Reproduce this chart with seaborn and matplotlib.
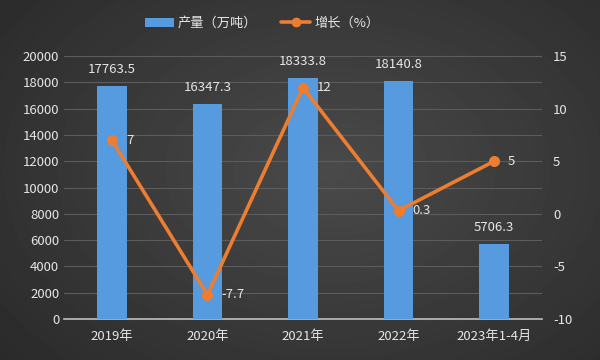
import numpy as np
import pandas as pd
import matplotlib
matplotlib.use("Agg")
import matplotlib.pyplot as plt
from matplotlib.patches import Patch
from matplotlib.lines import Line2D
import seaborn as sns

categories = ["2019年", "2020年", "2021年", "2022年", "2023年1-4月"]
output = [17763.5, 16347.3, 18333.8, 18140.8, 5706.3]
growth = [7, -7.7, 12, 0.3, 5]
output_labels = ["17763.5", "16347.3", "18333.8", "18140.8", "5706.3"]
growth_labels = ["7", "-7.7", "12", "0.3", "5"]

sns.set_theme(style="dark")
plt.rcParams['font.family'] = ['Noto Sans CJK SC', 'DejaVu Sans']
plt.rcParams['axes.unicode_minus'] = False

txt = "#e6e6e6"
blue = "#569ae0"
orange = "#ed7d31"

fig = plt.figure(figsize=(6, 3.6), dpi=100)
# background gradient
bg = fig.add_axes([0, 0, 1, 1], zorder=-10)
yy, xx = np.mgrid[0:360, 0:600]
r = np.sqrt(((xx - 330) / 380.0) ** 2 + ((yy - 170) / 260.0) ** 2)
img = np.clip(0.29 - 0.11 * r, 0.16, 0.29)
bg.imshow(img, cmap="gray", vmin=0, vmax=1, aspect="auto", extent=[0, 1, 0, 1])
bg.axis("off")

ax = fig.add_axes([0.107, 0.114, 0.796, 0.730])
ax.set_facecolor("none")
df = pd.DataFrame({"cat": categories, "output": output, "growth": growth})
sns.barplot(data=df, x="cat", y="output", ax=ax, color=blue, width=0.31,
            saturation=1, linewidth=0, edgecolor="none", zorder=3)
ax.set_ylim(0, 20000)
ax.set_xlim(-0.5, 4.5)
ax.set_yticks(np.arange(0, 20001, 2000))
ax.grid(axis="y", color="#5c5c5c", linewidth=0.8, zorder=0)
ax.grid(axis="x", visible=False)
ax.set_xlabel("")
ax.set_ylabel("")
for s in ["top", "right", "left"]:
    ax.spines[s].set_visible(False)
ax.spines["bottom"].set_color("#bfbfbf")
ax.spines["bottom"].set_linewidth(1.2)
ax.tick_params(axis="both", colors=txt, labelsize=9.5, length=0)
ax.tick_params(axis="x", pad=8)
for i, v in enumerate(output):
    ax.annotate(output_labels[i], (i, v), xytext=(0, 7), textcoords="offset points",
                ha="center", va="bottom", color=txt, fontsize=9.5, zorder=6)

ax2 = ax.twinx()
ax2.set_facecolor("none")
sns.pointplot(data=df, x="cat", y="growth", ax=ax2, color=orange,
              markers="o", markersize=6, linewidth=2.6, zorder=5)
ax2.set_ylim(-10, 15)
ax2.set_xlim(-0.5, 4.5)
ax2.set_yticks(np.arange(-10, 16, 5))
ax2.grid(False)
ax2.set_ylabel("")
ax2.set_xlabel("")
for s in ["top", "right", "left", "bottom"]:
    ax2.spines[s].set_visible(False)
ax2.tick_params(axis="y", colors=txt, labelsize=9.5, length=0, pad=8)
for i, v in enumerate(growth):
    ax2.annotate(growth_labels[i], (i, v), xytext=(10, 0), textcoords="offset points",
                 ha="left", va="center", color=txt, fontsize=9.5, zorder=6)

handles = [Patch(facecolor=blue, edgecolor="none"),
           Line2D([0], [0], color=orange, linewidth=2.6, marker="o", markersize=6)]
fig.legend(handles, ["产量（万吨）", "增长（%）"], loc="center", bbox_to_anchor=(0.437, 0.935),
           ncol=2, frameon=False, fontsize=9.5, labelcolor=txt, handlelength=2.2,
           columnspacing=1.8, handletextpad=0.3)

fig.savefig("out.png", dpi=100)
